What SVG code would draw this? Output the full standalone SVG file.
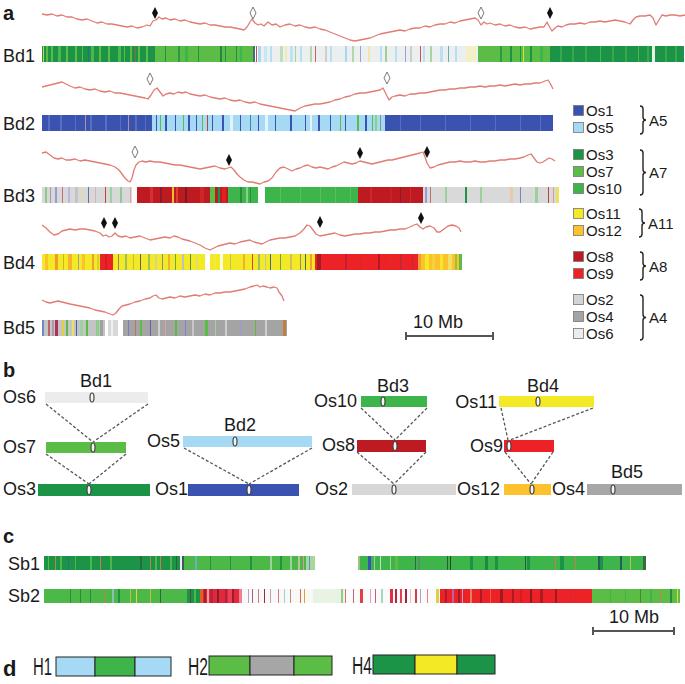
<svg xmlns="http://www.w3.org/2000/svg" width="685" height="684" viewBox="0 0 685 684">
<style>
text{font-family:"Liberation Sans",Arial,sans-serif;fill:#1a1a1a}
.lbl{font-size:18px}
.leg{font-size:15px}
.pl{font-size:20px;font-weight:bold}
.b16 rect{height:16px}
.b14 rect{height:14px}
.curve{fill:none;stroke:#e07c74;stroke-width:1.3;stroke-linejoin:round}
.sd{fill:#111}
.hd{fill:#fff;stroke:#777;stroke-width:1}
.dash{stroke:#555;stroke-width:1.3;stroke-dasharray:3 2;fill:none}
.cen{fill:#f4f4f4;stroke:#444;stroke-width:1.2}
.br{fill:none;stroke:#222;stroke-width:1.4}
.hb{stroke:#222;stroke-width:1}
.scale{stroke:#555;stroke-width:2;fill:none}
</style>
<defs>
<path id="dia" d="M0,-6L3,0L0,6L-3,0Z"/>
</defs>

<!-- panel letters -->
<text class="pl" x="3" y="20">a</text>
<text class="pl" x="3" y="377">b</text>
<text class="pl" x="3" y="543">c</text>
<text class="pl" x="3" y="676" style="font-size:22px">d</text>

<!-- ===== Panel a ===== -->
<g id="Bd1">
<text class="lbl" x="3" y="62">Bd1</text>
<polyline class="curve" points="42,14 47,15 52,14 57,16 62,15 67,17 72,17 77,19 82,20 87,19 92,21 97,23 102,22 107,24 112,24 117,25 122,26 127,27 132,26 137,28 142,27 147,25 150,26 153,21 156,20 159,17 162,19 166,18 170,20 175,19 180,21 185,20 190,22 195,23 200,24 205,23 210,25 215,25 220,26 225,27 230,27 235,28 240,29 244,30 247,27 250,22 252,19 255,23 258,25 261,24 264,26 268,22 272,25 276,24 280,27 285,25 290,24 295,26 300,25 305,27 310,28 315,27 320,29 325,30 330,32 335,34 340,36 345,38 350,40 355,41 360,40 365,39 370,38 375,36 380,34 385,33 390,32 395,31 400,30 405,31 410,29 415,28 420,28 425,26 430,27 435,25 440,24 445,24 450,22 455,23 460,21 465,20 470,19 475,18 478,20 481,25 484,22 487,24 490,23 495,25 500,24 505,26 510,25 515,27 520,28 525,27 530,29 535,28 540,27 544,27 547,22 549,26 552,31 555,28 558,26 562,27 566,25 570,24 575,24 580,23 585,24 590,22 595,22 600,21 605,22 610,21 615,20 620,21 625,22 630,24 633,20 636,17 640,16 645,16 650,15 653,18 656,25 659,20 662,15 666,16 670,15 675,15 680,16 685,15"/>
<use href="#dia" x="155" y="13" class="sd"/>
<use href="#dia" x="253" y="13" class="hd"/>
<use href="#dia" x="481" y="13" class="hd"/>
<use href="#dia" x="550" y="13" class="sd"/>
<g class="b16" transform="translate(0,46)">
<rect x="42" width="113" fill="#1b9447"/>
<rect x="43" width="1" fill="#d8d050"/><rect x="46" width="2" fill="#5cbd46"/><rect x="51" width="2" fill="#5cbd46"/><rect x="58" width="3" fill="#4cb848"/><rect x="66" width="2" fill="#5cbd46"/><rect x="75" width="2" fill="#5cbd46"/><rect x="82" width="1" fill="#5cbd46"/><rect x="88" width="1" fill="#2a6e8c"/><rect x="91" width="3" fill="#4cb848"/><rect x="99" width="2" fill="#5cbd46"/><rect x="108" width="2" fill="#5cbd46"/><rect x="118" width="3" fill="#4cb848"/><rect x="124" width="1" fill="#5cbd46"/><rect x="130" width="2" fill="#5cbd46"/><rect x="135" width="1" fill="#a0604d"/><rect x="138" width="2" fill="#5cbd46"/><rect x="146" width="2" fill="#5cbd46"/>
<rect x="155" width="98" fill="#5cbd46"/>
<rect x="165" width="1" fill="#1b9447"/><rect x="178" width="2" fill="#2a9a48"/><rect x="185" width="3" fill="#3db54a"/><rect x="198" width="1" fill="#1b9447"/><rect x="220" width="2" fill="#1b8a47"/><rect x="225" width="1" fill="#1b9447"/><rect x="236" width="1" fill="#1b9447"/><rect x="240" width="2" fill="#3db54a"/>
<rect x="253" width="2" fill="#4a6a80"/><rect x="256" width="1" fill="#c05050"/><rect x="258" width="3" fill="#a5d9f4"/>
<rect x="261" width="217" fill="#eceff0"/>
<rect x="264" width="3" fill="#c8e6f5"/><rect x="270" width="2" fill="#b5dff4"/><rect x="280" width="3" fill="#c0dfb8"/><rect x="285" width="2" fill="#f0ecb8"/><rect x="290" width="3" fill="#c0e2f4"/><rect x="295" width="1" fill="#a8d4a0"/><rect x="300" width="2" fill="#b8dff4"/><rect x="310" width="2" fill="#b0d8a8"/><rect x="315" width="1" fill="#d06060"/><rect x="325" width="2" fill="#cfcfcf"/><rect x="330" width="2" fill="#b8dff4"/><rect x="345" width="2" fill="#a8d6f0"/><rect x="352" width="2" fill="#b0d8a8"/><rect x="360" width="1" fill="#9aa0d8"/><rect x="368" width="2" fill="#eee8b0"/><rect x="380" width="2" fill="#b8dff4"/><rect x="385" width="2" fill="#a0d098"/><rect x="395" width="2" fill="#b8dff4"/><rect x="405" width="1" fill="#9aa0d8"/><rect x="410" width="2" fill="#cdcdcd"/><rect x="420" width="1" fill="#d05050"/><rect x="423" width="2" fill="#b8dff4"/><rect x="430" width="2" fill="#a8d4a0"/><rect x="440" width="3" fill="#b8dff4"/><rect x="448" width="1" fill="#6aa8c0"/><rect x="455" width="2" fill="#b8dff4"/><rect x="466" width="10" fill="#f3f0c8"/>
<rect x="478" width="72" fill="#5cbd46"/>
<rect x="500" width="2" fill="#2a9a48"/><rect x="510" width="2" fill="#1b9447"/><rect x="520" width="1" fill="#1b9447"/><rect x="523" width="1" fill="#e0e040"/><rect x="530" width="2" fill="#1b9447"/><rect x="540" width="3" fill="#3db54a"/>
<rect x="550" width="134" fill="#1b9447"/>
<rect x="560" width="2" fill="#3aa84a"/><rect x="572" width="2" fill="#3aa84a"/><rect x="585" width="2" fill="#3aa84a"/><rect x="600" width="1" fill="#4cb848"/><rect x="612" width="2" fill="#3aa84a"/><rect x="625" width="2" fill="#3aa84a"/><rect x="638" width="1" fill="#4cb848"/><rect x="647" width="2" fill="#3aa84a"/><rect x="652" width="3" fill="#e8f0e8"/><rect x="665" width="2" fill="#3aa84a"/><rect x="675" width="2" fill="#3aa84a"/>
</g>
</g>

<g id="Bd2">
<text class="lbl" x="3" y="130">Bd2</text>
<polyline class="curve" points="42,87 46,86 50,85 54,84 58,83 62,82 66,84 70,86 75,88 80,87 85,89 90,90 95,89 100,91 105,92 110,91 115,93 120,93 125,94 130,95 135,96 140,97 145,98 148,99 151,95 154,90 157,88 160,92 163,96 166,94 170,93 174,94 178,92 182,93 186,92 190,94 195,95 200,96 205,95 210,97 215,98 220,99 225,98 230,100 235,101 240,100 245,102 250,103 255,102 260,104 265,105 270,106 275,107 280,108 285,109 290,110 295,111 300,108 305,106 310,105 315,104 320,104 325,103 330,102 335,100 340,99 345,97 350,96 355,94 360,93 365,93 370,92 375,91 380,90 383,88 386,94 389,100 392,97 395,96 400,95 405,96 410,94 415,94 420,93 425,93 430,92 435,91 440,90 445,90 450,89 455,89 460,88 465,88 470,87 475,87 480,86 485,87 490,86 495,86 500,85 505,86 510,85 515,84 520,85 525,84 530,84 535,83 540,83 545,81 548,80 550,83 553,89"/>
<use href="#dia" x="150" y="79" class="hd"/>
<use href="#dia" x="387" y="78" class="hd"/>
<g class="b16" transform="translate(0,115)">
<rect x="42" width="110" fill="#3a52b0"/>
<rect x="48" width="2" fill="#5a6ec0"/><rect x="60" width="2" fill="#5a6ec0"/><rect x="75" width="1" fill="#5a6ec0"/><rect x="85" width="1" fill="#b090b0"/><rect x="90" width="2" fill="#5a6ec0"/><rect x="105" width="2" fill="#5a6ec0"/><rect x="120" width="1" fill="#5a6ec0"/><rect x="128" width="1" fill="#b090b0"/><rect x="135" width="2" fill="#5a6ec0"/><rect x="145" width="1" fill="#5a6ec0"/>
<rect x="152" width="233" fill="#a5d9f4"/>
<rect x="156" width="1" fill="#3a52b0"/><rect x="160" width="1" fill="#5cbd46"/><rect x="165" width="2" fill="#3a52b0"/><rect x="175" width="1" fill="#3a52b0"/><rect x="183" width="1" fill="#5cbd46"/><rect x="188" width="2" fill="#3a52b0"/><rect x="196" width="1" fill="#3a52b0"/><rect x="202" width="1" fill="#5cbd46"/><rect x="207" width="1" fill="#c04040"/><rect x="212" width="1" fill="#3a52b0"/><rect x="222" width="2" fill="#3a52b0"/><rect x="230" width="3" fill="#e4f3fb"/><rect x="240" width="1" fill="#3a52b0"/><rect x="250" width="1" fill="#3a8aa0"/><rect x="258" width="1" fill="#3a52b0"/><rect x="265" width="3" fill="#e4f3fb"/><rect x="275" width="1" fill="#3a52b0"/><rect x="290" width="2" fill="#3a52b0"/><rect x="305" width="1" fill="#3a52b0"/><rect x="310" width="2" fill="#e4f3fb"/><rect x="318" width="2" fill="#3a52b0"/><rect x="330" width="1" fill="#3a52b0"/><rect x="340" width="1" fill="#5cbd46"/><rect x="345" width="1" fill="#3a52b0"/><rect x="357" width="2" fill="#5cbd46"/><rect x="365" width="2" fill="#3a52b0"/><rect x="372" width="1" fill="#5cbd46"/><rect x="375" width="2" fill="#8ccf8a"/><rect x="380" width="1" fill="#909090"/>
<rect x="385" width="168" fill="#3a52b0"/>
<rect x="400" width="1" fill="#5a6ec0"/><rect x="420" width="1" fill="#5a6ec0"/><rect x="445" width="1" fill="#5a6ec0"/><rect x="470" width="1" fill="#5a6ec0"/><rect x="495" width="1" fill="#5a6ec0"/><rect x="520" width="1" fill="#5a6ec0"/><rect x="540" width="1" fill="#5a6ec0"/>
</g>
</g>

<g id="Bd3">
<text class="lbl" x="3" y="202">Bd3</text>
<polyline class="curve" points="42,153 46,152 50,155 54,158 58,159 62,158 66,160 70,160 75,159 80,161 85,160 90,161 95,162 100,163 105,164 110,165 115,167 119,170 122,174 125,178 128,181 130,182 132,178 134,170 136,165 139,162 142,161 146,162 150,161 155,162 160,162 165,163 170,164 175,165 180,165 185,166 190,167 195,168 200,169 205,168 210,167 215,166 220,168 225,169 228,168 231,167 234,170 237,174 240,177 244,180 248,182 252,182 256,183 260,184 264,182 268,181 272,178 276,172 280,168 284,167 288,169 292,171 296,169 300,168 304,166 308,165 312,167 316,168 320,167 324,168 328,169 332,167 336,166 340,164 344,162 348,163 352,164 356,163 360,161 364,162 368,163 372,164 376,163 380,162 384,161 388,160 392,160 396,159 400,158 404,157 408,156 412,155 416,154 420,153 423,152 425,157 427,163 430,168 434,167 438,165 442,164 446,163 450,162 455,162 460,161 465,162 470,162 475,161 480,162 485,162 490,161 495,161 500,160 505,160 510,159 515,159 520,158 524,157 528,155 531,154 534,158 537,162 540,163 543,162 546,160 549,158 552,159 555,161"/>
<use href="#dia" x="135" y="152" class="hd"/>
<use href="#dia" x="229" y="160" class="sd"/>
<use href="#dia" x="360" y="153" class="sd"/>
<use href="#dia" x="427" y="152" class="sd"/>
<g class="b16" transform="translate(0,187)">
<rect x="42" width="95" fill="#d8d8d8"/>
<rect x="45" width="2" fill="#8fc88a"/><rect x="50" width="1" fill="#a0a0a0"/><rect x="55" width="2" fill="#9a9ad8"/><rect x="62" width="1" fill="#c87070"/><rect x="68" width="2" fill="#b8b8e8"/><rect x="75" width="3" fill="#c4c4c4"/><rect x="80" width="1" fill="#e0e0a0"/><rect x="88" width="1" fill="#6a6aa0"/><rect x="95" width="1" fill="#e0b0b0"/><rect x="105" width="1" fill="#c04040"/><rect x="110" width="2" fill="#a0d0a0"/><rect x="120" width="2" fill="#90c890"/><rect x="130" width="1" fill="#e0a0b0"/><rect x="132" width="5" fill="#fafafa"/>
<rect x="137" width="91" fill="#bd1a22"/>
<rect x="150" width="3" fill="#d43030"/><rect x="160" width="2" fill="#8a1a2a"/><rect x="172" width="2" fill="#f0c030"/><rect x="176" width="2" fill="#e04030"/><rect x="185" width="2" fill="#7a1a20"/><rect x="200" width="4" fill="#d42525"/><rect x="210" width="5" fill="#5cbd46"/><rect x="218" width="2" fill="#1b9447"/><rect x="222" width="4" fill="#e02020"/>
<rect x="228" width="30" fill="#3db54a"/>
<rect x="240" width="2" fill="#2a8a40"/><rect x="246" width="2" fill="#8ccf8a"/><rect x="250" width="1" fill="#1b9447"/>
<rect x="265" width="93" fill="#3db54a"/>
<rect x="280" width="1" fill="#5ac05a"/><rect x="300" width="1" fill="#5ac05a"/><rect x="320" width="1" fill="#5ac05a"/><rect x="335" width="1" fill="#5ac05a"/><rect x="350" width="1" fill="#5ac05a"/>
<rect x="358" width="65" fill="#bd1a22"/>
<rect x="370" width="2" fill="#d02828"/><rect x="390" width="2" fill="#c82028"/><rect x="400" width="1" fill="#8a1a2a"/><rect x="410" width="1" fill="#d42a2a"/>
<rect x="423" width="136" fill="#d9d9d9"/>
<rect x="425" width="2" fill="#9a9ad8"/><rect x="430" width="1" fill="#c07070"/><rect x="445" width="2" fill="#9ad09a"/><rect x="465" width="2" fill="#1b9447"/><rect x="480" width="2" fill="#9ad09a"/><rect x="510" width="3" fill="#e8c8b0"/><rect x="520" width="1" fill="#8080d0"/><rect x="535" width="3" fill="#9ad09a"/><rect x="548" width="1" fill="#c04040"/><rect x="553" width="1" fill="#d0a0a0"/><rect x="556" width="3" fill="#f0e060"/>
</g>
</g>

<g id="Bd4">
<text class="lbl" x="3" y="269">Bd4</text>
<polyline class="curve" points="42,225 46,228 50,232 54,235 58,234 62,231 66,230 70,229 75,230 80,229 85,229 90,230 95,231 100,233 103,236 106,235 109,237 112,236 115,233 118,236 122,237 126,236 130,238 135,237 140,236 145,238 150,240 155,239 160,238 165,237 170,238 174,236 178,237 182,239 186,240 190,241 195,243 200,245 205,248 210,250 214,248 218,246 222,245 226,244 230,243 235,244 240,242 245,241 250,240 254,242 258,243 262,244 266,242 270,240 275,239 280,238 285,238 290,237 295,236 300,233 304,229 307,225 310,226 313,230 316,234 320,236 325,235 330,234 335,233 340,235 345,236 350,235 355,234 360,234 365,233 370,233 375,232 380,232 385,231 390,230 395,230 400,229 405,229 410,227 414,225 417,224 420,227 423,229 426,227 430,226 434,228 437,232 440,232 444,229 448,226 452,225 456,226 459,228 461,232"/>
<use href="#dia" x="104" y="223" class="sd"/>
<use href="#dia" x="115" y="223" class="sd"/>
<use href="#dia" x="320" y="222" class="sd"/>
<use href="#dia" x="421" y="218" class="sd"/>
<g class="b16" transform="translate(0,254)">
<rect x="42" width="58" fill="#f3e924"/>
<rect x="45" width="3" fill="#fcc12c"/><rect x="55" width="3" fill="#f29a2a"/><rect x="63" width="1" fill="#c8b820"/><rect x="68" width="4" fill="#f7b030"/><rect x="78" width="1" fill="#a0a0a0"/><rect x="82" width="3" fill="#fcc12c"/><rect x="92" width="2" fill="#f0a030"/><rect x="97" width="2" fill="#d8d030"/>
<rect x="100" width="13" fill="#ec2227"/><rect x="105" width="2" fill="#d02020"/>
<rect x="113" width="92" fill="#f3e924"/>
<rect x="118" width="1" fill="#8a8a5a"/><rect x="125" width="2" fill="#a0c060"/><rect x="133" width="1" fill="#c0c040"/><rect x="140" width="1" fill="#606060"/><rect x="148" width="2" fill="#a0c060"/><rect x="155" width="2" fill="#d8d0a0"/><rect x="162" width="1" fill="#8a8a8a"/><rect x="168" width="2" fill="#f0b030"/><rect x="175" width="1" fill="#70a060"/><rect x="182" width="2" fill="#c0c0c0"/><rect x="190" width="1" fill="#5a8a50"/><rect x="196" width="2" fill="#e0e060"/>
<rect x="210" width="105" fill="#f3e924"/>
<rect x="215" width="1" fill="#f2e860"/><rect x="220" width="3" fill="#fbfbe0"/><rect x="230" width="1" fill="#c0c060"/><rect x="243" width="2" fill="#f0b030"/><rect x="252" width="1" fill="#e04030"/><rect x="258" width="2" fill="#a0c060"/><rect x="265" width="1" fill="#c0c0c0"/><rect x="270" width="1" fill="#3a6a90"/><rect x="280" width="1" fill="#70a050"/><rect x="290" width="2" fill="#d0c060"/><rect x="300" width="1" fill="#8a8a8a"/><rect x="305" width="1" fill="#4a6a50"/><rect x="310" width="2" fill="#f0a030"/>
<rect x="315" width="103" fill="#ec2227"/>
<rect x="317" width="4" fill="#a81a26"/><rect x="345" width="2" fill="#c02030"/><rect x="360" width="1" fill="#d02a2a"/><rect x="378" width="2" fill="#b01a24"/><rect x="390" width="1" fill="#d83030"/><rect x="400" width="2" fill="#c02a30"/><rect x="412" width="1" fill="#c02a30"/>
<rect x="418" width="44" fill="#fcc12c"/>
<rect x="418" width="3" fill="#f0a030"/><rect x="425" width="4" fill="#f3e924"/><rect x="432" width="3" fill="#f7d040"/><rect x="440" width="3" fill="#f3e924"/><rect x="448" width="4" fill="#f0e060"/><rect x="455" width="2" fill="#9ac040"/><rect x="459" width="3" fill="#5cbd46"/>
</g>
</g>

<g id="Bd5">
<text class="lbl" x="3" y="334">Bd5</text>
<polyline class="curve" points="42,300 46,302 50,303 54,302 58,301 62,302 66,303 70,304 75,305 80,306 85,307 90,308 95,310 100,311 105,312 110,314 113,315 116,313 119,309 122,306 126,305 130,304 135,302 140,301 145,299 150,298 153,296 156,295 159,298 162,299 166,298 170,297 175,298 180,296 185,297 190,296 195,295 200,296 205,294 210,295 215,293 220,293 225,292 230,292 235,291 240,290 245,289 250,287 254,286 257,285 260,287 263,286 267,287 270,288 274,287 277,288 279,292 282,296 284,301"/>
<g class="b16" transform="translate(0,320)">
<rect x="42" width="63" fill="#c4c4c4"/>
<rect x="42" width="2" fill="#6a8ac0"/><rect x="48" width="2" fill="#c06070"/><rect x="52" width="2" fill="#a0a0a0"/><rect x="55" width="3" fill="#b0305a"/><rect x="62" width="2" fill="#e0d040"/><rect x="66" width="2" fill="#5cbd46"/><rect x="72" width="2" fill="#f0e060"/><rect x="76" width="1" fill="#4060b0"/><rect x="80" width="3" fill="#a0d0a0"/><rect x="86" width="2" fill="#5cbd46"/><rect x="96" width="3" fill="#8ccf8a"/><rect x="100" width="3" fill="#a0a0a0"/>
<rect x="108" width="10" fill="#d8d8d8"/><rect x="111" width="2" fill="#f0f0f0"/>
<rect x="123" width="164" fill="#a4a4a4"/>
<rect x="128" width="1" fill="#7a7ac0"/><rect x="135" width="1" fill="#c07070"/><rect x="140" width="2" fill="#5cbd46"/><rect x="150" width="1" fill="#6060b0"/><rect x="158" width="2" fill="#d0d0d0"/><rect x="165" width="1" fill="#e0a0a0"/><rect x="175" width="2" fill="#5cbd46"/><rect x="185" width="1" fill="#8080d0"/><rect x="192" width="2" fill="#c8c8c8"/><rect x="205" width="3" fill="#5cbd46"/><rect x="215" width="1" fill="#a0d0a0"/><rect x="225" width="2" fill="#d0d0d0"/><rect x="240" width="1" fill="#9a9ad8"/><rect x="255" width="1" fill="#5cbd46"/><rect x="265" width="2" fill="#d0d0d0"/><rect x="283" width="3" fill="#c08040"/>
</g>
</g>

<g id="scale-a">
<text class="lbl" x="413" y="328">10 Mb</text>
<path class="scale" d="M406,336H493M406,332V340M493,332V340"/>
</g>

<!-- legend -->
<g id="legend">
<g stroke="#777" stroke-width="0.8">
<rect x="573.5" y="105.5" width="10" height="10" fill="#3a52b0"/>
<rect x="573.5" y="122.5" width="10" height="10" fill="#a5d9f4"/>
<rect x="573.5" y="149.5" width="10" height="10" fill="#1b9447"/>
<rect x="573.5" y="166.5" width="10" height="10" fill="#5cbd46"/>
<rect x="573.5" y="183.5" width="10" height="10" fill="#3db54a"/>
<rect x="573.5" y="208.5" width="10" height="10" fill="#f3e924"/>
<rect x="573.5" y="225.5" width="10" height="10" fill="#fcc12c"/>
<rect x="573.5" y="251.5" width="10" height="10" fill="#bd1a22"/>
<rect x="573.5" y="268.5" width="10" height="10" fill="#ec2227"/>
<rect x="573.5" y="294.5" width="10" height="10" fill="#d4d4d4"/>
<rect x="573.5" y="311.5" width="10" height="10" fill="#a4a4a4"/>
<rect x="573.5" y="328.5" width="10" height="10" fill="#ececec"/>
</g>
<text class="leg" x="586" y="116">Os1</text>
<text class="leg" x="586" y="133">Os5</text>
<text class="leg" x="586" y="160">Os3</text>
<text class="leg" x="586" y="177">Os7</text>
<text class="leg" x="586" y="194">Os10</text>
<text class="leg" x="586" y="219">Os11</text>
<text class="leg" x="586" y="236">Os12</text>
<text class="leg" x="586" y="262">Os8</text>
<text class="leg" x="586" y="279">Os9</text>
<text class="leg" x="586" y="305">Os2</text>
<text class="leg" x="586" y="322">Os4</text>
<text class="leg" x="586" y="339">Os6</text>
<path class="br" d="M640,106q3,0 3,3V117q0,3 3,3q-3,0 -3,3V131q0,3 -3,3"/>
<path class="br" d="M640,150q3,0 3,3V169.5q0,3 3,3q-3,0 -3,3V192q0,3 -3,3"/>
<path class="br" d="M639,209q3,0 3,3V220q0,3 3,3q-3,0 -3,3V234q0,3 -3,3"/>
<path class="br" d="M640,252q3,0 3,3V263q0,3 3,3q-3,0 -3,3V277q0,3 -3,3"/>
<path class="br" d="M640,295q3,0 3,3V314.5q0,3 3,3q-3,0 -3,3V337q0,3 -3,3"/>
<text class="leg" x="649" y="126">A5</text>
<text class="leg" x="649" y="178">A7</text>
<text class="leg" x="648" y="229">A11</text>
<text class="leg" x="649" y="272">A8</text>
<text class="leg" x="649" y="323">A4</text>
</g>

<!-- ===== Panel b ===== -->
<g id="connectors">
<path class="dash" d="M46,404L93,442M148,404L93,442"/>
<path class="dash" d="M46,454L89,484M126,454L89,484"/>
<path class="dash" d="M184,448L249,484M312,448L249,484"/>
<path class="dash" d="M361,408L395,440M427,408L395,440"/>
<path class="dash" d="M357,452L394,484M426,452L394,484"/>
<path class="dash" d="M501,408L508,440M593,408L510,440"/>
<path class="dash" d="M505,452L531,484M553,452L531,484"/>
</g>

<g id="b-Bd1">
<text class="lbl" x="96" y="387" text-anchor="middle">Bd1</text>
<text class="lbl" x="3" y="403">Os6</text>
<rect x="45" y="392" width="103" height="11" fill="#ececec"/>
<ellipse class="cen" cx="92" cy="397.5" rx="2" ry="4.5"/>
<text class="lbl" x="3" y="453">Os7</text>
<rect x="46" y="442" width="80" height="11" fill="#5cbd46"/>
<ellipse class="cen" cx="93" cy="447.5" rx="2" ry="4.5"/>
<text class="lbl" x="3" y="495">Os3</text>
<rect x="38" y="484" width="112" height="12" fill="#1b9447"/>
<ellipse class="cen" cx="89" cy="490" rx="2" ry="4.5"/>
</g>

<g id="b-Bd2">
<text class="lbl" x="240" y="431" text-anchor="middle">Bd2</text>
<text class="lbl" x="147" y="447">Os5</text>
<rect x="183" y="436" width="129" height="11" fill="#a5d9f4"/>
<ellipse class="cen" cx="235" cy="441.5" rx="2" ry="4.5"/>
<text class="lbl" x="155" y="495">Os1</text>
<rect x="188" y="484" width="111" height="12" fill="#3a52b0"/>
<ellipse class="cen" cx="249" cy="490" rx="2" ry="4.5"/>
</g>

<g id="b-Bd3">
<text class="lbl" x="393" y="392" text-anchor="middle">Bd3</text>
<text class="lbl" x="357" y="407" text-anchor="end">Os10</text>
<rect x="361" y="396" width="66" height="11" fill="#3db54a"/>
<ellipse class="cen" cx="383" cy="401.5" rx="2" ry="4.5"/>
<text class="lbl" x="355" y="451" text-anchor="end">Os8</text>
<rect x="357" y="440" width="69" height="12" fill="#bd1a22"/>
<ellipse class="cen" cx="395" cy="446" rx="2" ry="4.5"/>
<text class="lbl" x="315" y="495">Os2</text>
<rect x="352" y="484" width="104" height="11" fill="#d7d7d7"/>
<ellipse class="cen" cx="394" cy="489.5" rx="2" ry="4.5"/>
</g>

<g id="b-Bd4">
<text class="lbl" x="543" y="392" text-anchor="middle">Bd4</text>
<text class="lbl" x="497" y="408" text-anchor="end">Os11</text>
<rect x="499" y="396" width="95" height="11" fill="#f3e924"/>
<ellipse class="cen" cx="538" cy="401.5" rx="2" ry="4.5"/>
<text class="lbl" x="503" y="452" text-anchor="end">Os9</text>
<rect x="504" y="440" width="50" height="12" fill="#ec2227"/>
<ellipse class="cen" cx="509" cy="446" rx="2" ry="4.5"/>
<text class="lbl" x="457" y="495">Os12</text>
<rect x="504" y="484" width="47" height="11" fill="#fcc12c"/>
<ellipse class="cen" cx="532" cy="489.5" rx="2" ry="4.5"/>
</g>

<g id="b-Bd5">
<text class="lbl" x="627" y="478" text-anchor="middle">Bd5</text>
<text class="lbl" x="552" y="495">Os4</text>
<rect x="587" y="484" width="95" height="11" fill="#a7a7a7"/>
<ellipse class="cen" cx="613" cy="489.5" rx="2" ry="4.5"/>
</g>

<!-- ===== Panel c ===== -->
<g id="Sb1">
<text class="lbl" x="8" y="570">Sb1</text>
<g class="b14" transform="translate(0,556)">
<rect x="44" width="138" fill="#1b9447"/>
<rect x="48" width="1" fill="#5cbd46"/><rect x="55" width="1" fill="#c08050"/><rect x="60" width="2" fill="#4cb848"/><rect x="68" width="1" fill="#3a6a80"/><rect x="75" width="1" fill="#4cb848"/><rect x="90" width="2" fill="#4cb848"/><rect x="100" width="1" fill="#c08050"/><rect x="110" width="2" fill="#4cb848"/><rect x="140" width="2" fill="#2a6a40"/><rect x="150" width="1" fill="#c08050"/><rect x="155" width="2" fill="#4cb848"/><rect x="160" width="1" fill="#c08050"/><rect x="170" width="2" fill="#4cb848"/><rect x="176" width="1" fill="#3a5a40"/><rect x="180" width="2" fill="#e8f0e8"/>
<rect x="182" width="133" fill="#4cb848"/>
<rect x="182" width="2" fill="#3a5a6a"/><rect x="195" width="2" fill="#6ab0c0"/><rect x="210" width="1" fill="#1b9447"/><rect x="230" width="1" fill="#1b9447"/><rect x="250" width="2" fill="#1b9447"/><rect x="270" width="2" fill="#a0d0a0"/><rect x="280" width="2" fill="#1b9447"/><rect x="290" width="2" fill="#a0d0a0"/><rect x="298" width="2" fill="#c0c0a0"/><rect x="303" width="1" fill="#d0a0a0"/><rect x="306" width="9" fill="#a8d6a0"/><rect x="309" width="1" fill="#6a8ac0"/>
<rect x="358" width="288" fill="#3db54a"/>
<rect x="358" width="2" fill="#a0c080"/><rect x="368" width="3" fill="#3a52b0"/><rect x="374" width="1" fill="#a0d0a0"/><rect x="380" width="1" fill="#c0e0c0"/><rect x="390" width="1" fill="#a0d0a0"/><rect x="395" width="3" fill="#5cbd46"/><rect x="415" width="1" fill="#2a6a40"/><rect x="418" width="2" fill="#5a8a70"/><rect x="447" width="1" fill="#2a5a40"/><rect x="450" width="1" fill="#3a3a30"/><rect x="470" width="3" fill="#1b9447"/><rect x="485" width="3" fill="#1b8a47"/><rect x="495" width="3" fill="#1b9447"/><rect x="525" width="1" fill="#2a5a40"/><rect x="527" width="3" fill="#1b9447"/><rect x="555" width="1" fill="#c08050"/><rect x="560" width="4" fill="#1b9447"/><rect x="575" width="1" fill="#c08050"/><rect x="598" width="2" fill="#2a5a5a"/><rect x="600" width="3" fill="#1b9447"/><rect x="620" width="2" fill="#2a5a5a"/><rect x="630" width="1" fill="#c0c040"/><rect x="643" width="3" fill="#3a6a40"/>
</g>
</g>

<g id="Sb2">
<text class="lbl" x="8" y="602">Sb2</text>
<g class="b14" transform="translate(0,589)">
<rect x="44" width="143" fill="#4cb848"/>
<rect x="70" width="1" fill="#2a8a40"/><rect x="80" width="1" fill="#2a8a40"/><rect x="90" width="1" fill="#2a8a40"/><rect x="105" width="1" fill="#c08050"/><rect x="112" width="2" fill="#8ac0c0"/><rect x="118" width="2" fill="#1b9447"/><rect x="130" width="1" fill="#c0c040"/><rect x="136" width="1" fill="#f0d030"/><rect x="150" width="1" fill="#d0c030"/><rect x="160" width="1" fill="#2a6a40"/>
<rect x="187" width="13" fill="#1b9447"/><rect x="190" width="1" fill="#5a4a30"/><rect x="194" width="2" fill="#4cb848"/>
<rect x="200" width="42" fill="#e02a3a"/>
<rect x="200" width="3" fill="#e06020"/><rect x="204" width="2" fill="#a01a30"/><rect x="207" width="2" fill="#f0a0a0"/><rect x="210" width="3" fill="#c02040"/><rect x="217" width="2" fill="#8a1a3a"/><rect x="225" width="2" fill="#b02040"/><rect x="228" width="4" fill="#f04050"/><rect x="232" width="2" fill="#9a1a3a"/><rect x="239" width="3" fill="#f08090"/>
<rect x="242" width="71" fill="#f8f8f8"/>
<rect x="248" width="1" fill="#c0a0c0"/><rect x="252" width="1" fill="#a06080"/><rect x="258" width="1" fill="#c08090"/><rect x="264" width="1" fill="#8a3040"/><rect x="270" width="1" fill="#c0a0a0"/><rect x="278" width="1" fill="#d08080"/><rect x="284" width="1" fill="#a0d0d0"/><rect x="290" width="1" fill="#c09080"/><rect x="300" width="1" fill="#e07030"/><rect x="304" width="1" fill="#e0a040"/>
<rect x="313" width="32" fill="#e8f3e4"/><rect x="341" width="2" fill="#8ccf8a"/>
<rect x="345" width="95" fill="#fafafa"/>
<rect x="345" width="1" fill="#e07080"/><rect x="353" width="1" fill="#c06080"/><rect x="360" width="3" fill="#e04040"/><rect x="370" width="1" fill="#e0a0c0"/><rect x="375" width="1" fill="#c06080"/><rect x="381" width="2" fill="#a0d8c0"/><rect x="390" width="3" fill="#e03040"/><rect x="395" width="2" fill="#c02040"/><rect x="400" width="2" fill="#e04050"/><rect x="405" width="2" fill="#a02040"/><rect x="410" width="1" fill="#e0c0d0"/><rect x="415" width="2" fill="#d04040"/><rect x="420" width="1" fill="#b0a0d0"/><rect x="427" width="1" fill="#f08080"/><rect x="436" width="3" fill="#e0d040"/>
<rect x="440" width="152" fill="#ec2227"/>
<rect x="445" width="2" fill="#b01a30"/><rect x="452" width="2" fill="#c060a0"/><rect x="458" width="2" fill="#a01a30"/><rect x="462" width="1" fill="#c0a0d0"/><rect x="470" width="2" fill="#e08060"/><rect x="480" width="2" fill="#b01a24"/><rect x="490" width="1" fill="#f06040"/><rect x="500" width="3" fill="#a01a24"/><rect x="512" width="2" fill="#b01a24"/><rect x="520" width="2" fill="#d02020"/><rect x="530" width="2" fill="#8a1a24"/><rect x="540" width="3" fill="#b01a24"/><rect x="555" width="2" fill="#a01a24"/><rect x="570" width="1" fill="#d02a2a"/>
<rect x="592" width="88" fill="#5cbd46"/>
<rect x="610" width="1" fill="#3db54a"/><rect x="625" width="1" fill="#3db54a"/><rect x="640" width="1" fill="#3a8a40"/><rect x="650" width="2" fill="#3db54a"/><rect x="660" width="1" fill="#c08050"/><rect x="670" width="2" fill="#2a8a40"/><rect x="677" width="1" fill="#e0e040"/>
</g>
</g>

<g id="scale-c">
<text class="lbl" x="609" y="623">10 Mb</text>
<path class="scale" d="M593,631H674M593,627V635M674,627V635"/>
</g>

<!-- ===== Panel d ===== -->
<g id="H1">
<text x="33" y="675" style="font-size:23px" textLength="19" lengthAdjust="spacingAndGlyphs">H1</text>
<rect class="hb" x="56" y="657" width="39" height="19" fill="#a5d9f4"/>
<rect class="hb" x="95" y="657" width="40" height="19" fill="#3db54a"/>
<rect class="hb" x="135" y="657" width="36" height="19" fill="#a5d9f4"/>
</g>
<g id="H2">
<text x="188" y="675" style="font-size:23px" textLength="20" lengthAdjust="spacingAndGlyphs">H2</text>
<rect class="hb" x="209" y="656" width="41" height="19" fill="#5cbd46"/>
<rect class="hb" x="250" y="656" width="44" height="19" fill="#a6a6a6"/>
<rect class="hb" x="294" y="656" width="38" height="19" fill="#5cbd46"/>
</g>
<g id="H4">
<text x="352" y="674" style="font-size:23px" textLength="20" lengthAdjust="spacingAndGlyphs">H4</text>
<rect class="hb" x="373" y="655" width="42" height="19" fill="#1b9447"/>
<rect class="hb" x="415" y="655" width="42" height="19" fill="#f3e924"/>
<rect class="hb" x="457" y="655" width="38" height="19" fill="#1b9447"/>
</g>
</svg>
